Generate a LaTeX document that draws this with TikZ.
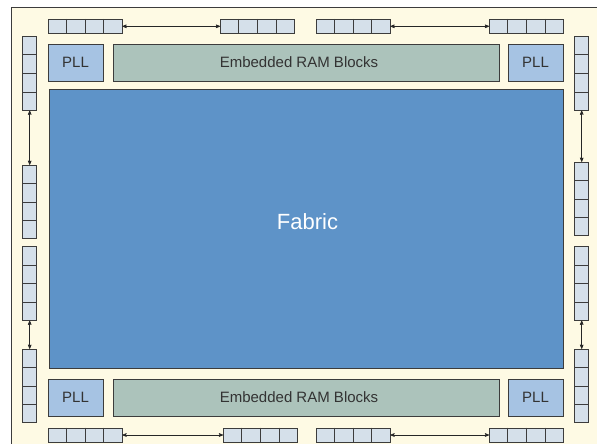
\documentclass[tikz,border=0pt]{standalone}
\usepackage{fontspec}
\setmainfont{Liberation Sans}
\usetikzlibrary{arrows}
\usetikzlibrary{calc}
\definecolor{chipbg}{RGB}{254,250,228}
\definecolor{iocell}{RGB}{213,224,234}
\definecolor{pllfill}{RGB}{166,195,227}
\definecolor{ramfill}{RGB}{172,195,187}
\definecolor{fabricfill}{RGB}{94,147,200}
\definecolor{edge}{RGB}{60,60,60}

\begin{document}
\begin{tikzpicture}[>=stealth',x=1pt,y=-1pt]
		\tikzstyle{iobank}=[rectangle,draw=edge,fill=iocell,line width=0.8pt,
			minimum width=74pt,minimum height=14pt,inner sep=0pt];
		\tikzstyle{iobankv}=[iobank,minimum width=14pt,minimum height=73.5pt];
		\tikzstyle{pll}=[rectangle,draw=edge,fill=pllfill,line width=0.8pt,
			minimum width=55pt,minimum height=37pt,inner sep=0pt,
			font=\fontsize{15}{18}\selectfont,text=black!80];
		\tikzstyle{ramblock}=[pll,fill=ramfill,minimum width=386pt];
		\tikzstyle{ramtext}=[xshift=-7pt,font=\fontsize{15}{18}\selectfont,text=black!80];
		\tikzstyle{fabricbox}=[rectangle,draw=edge,fill=fabricfill,line width=0.8pt,
			minimum width=514pt,minimum height=279pt];
		\tikzstyle{fabrictext}=[yshift=7pt,xshift=1.5pt,font=\fontsize{22}{26}\selectfont,text=white];
		\tikzstyle{link}=[<->,draw=black!85,line width=0.6pt];

		\useasboundingbox(0,0)rectangle(597,444);
		\clip(0,0)rectangle(597,444);
		\fill[chipbg](11.7,7.5)rectangle(610,460);
		\draw[edge,line width=0.8pt](11.7,460)--(11.7,7.5)--(610,7.5);

		\node[fabricbox,label={[fabrictext]center:Fabric}](fabric)at(306,228.5){};

		\node[pll](pll-tl)at(75.5,62.5){PLL};
		\node[ramblock,label={[ramtext]center:Embedded RAM Blocks}](ram-t)at(306,62.5){};
		\node[pll](pll-tr)at(535.5,62.5){PLL};
		\node[pll](pll-bl)at(75.5,397.5){PLL};
		\node[ramblock,label={[ramtext]center:Embedded RAM Blocks}](ram-b)at(306,397.5){};
		\node[pll](pll-br)at(535.5,397.5){PLL};

		\node[iobank](io-t1)at(85,26.3){};
		\node[iobank](io-t2)at(257.5,26.3){};
		\node[iobank](io-t3)at(353,26.3){};
		\node[iobank](io-t4)at(526.5,26.3){};
		\node[iobank](io-b1)at(85,435){};
		\node[iobank](io-b2)at(260.5,435){};
		\node[iobank](io-b3)at(353,435){};
		\node[iobank](io-b4)at(526.5,435){};

		\node[iobankv](io-l1)at(29.7,73.4){};
		\node[iobankv](io-l2)at(29.7,202){};
		\node[iobankv](io-l3)at(29.7,283.5){};
		\node[iobankv](io-l4)at(29.7,386){};
		\node[iobankv](io-r1)at(581.7,73.4){};
		\node[iobankv](io-r2)at(581.7,199){};
		\node[iobankv](io-r3)at(581.7,283.5){};
		\node[iobankv](io-r4)at(581.7,386){};

		\foreach \n in {io-t1,io-t2,io-t3,io-t4,io-b1,io-b2,io-b3,io-b4}
			\foreach \i in {1,2,3}
				\draw[edge,line width=0.8pt]($(\n.north west)!\i/4!(\n.north east)$)--($(\n.south west)!\i/4!(\n.south east)$);
		\foreach \n in {io-l1,io-l2,io-l3,io-l4,io-r1,io-r2,io-r3,io-r4}
			\foreach \i in {1,2,3}
				\draw[edge,line width=0.8pt]($(\n.north west)!\i/4!(\n.south west)$)--($(\n.north east)!\i/4!(\n.south east)$);

		\draw[link](io-t1)--(io-t2);
		\draw[link](io-t3)--(io-t4);
		\draw[link](io-b1)--(io-b2);
		\draw[link](io-b3)--(io-b4);
		\draw[link](io-l1)--(io-l2);
		\draw[link](io-l3)--(io-l4);
		\draw[link](io-r1)--(io-r2);
		\draw[link](io-r3)--(io-r4);
	\end{tikzpicture}
\end{document}
